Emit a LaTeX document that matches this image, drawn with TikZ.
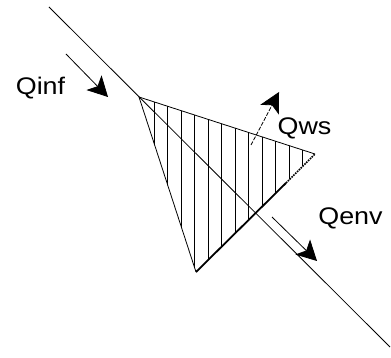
\documentclass[tikz,border=0pt]{standalone}
\usepackage{fontspec}
\setmainfont{Liberation Sans}
\usetikzlibrary{arrows.meta}
\begin{document}
\begin{tikzpicture}[x=1pt,y=-1pt,
  thinline/.style={line width=0.8pt},
  thickline/.style={line width=1.8pt},
  flowarrow/.style={line width=0.8pt,-{Stealth[length=20pt,width=21pt,inset=5pt]}},
  lbl/.style={font=\fontsize{24}{27}\selectfont,anchor=base,inner sep=0pt,xscale=1.12}]
\useasboundingbox (0,0) rectangle (391,358);
% long line
\coordinate (L1) at (49,7);
\coordinate (L2) at (390,347);
\draw[thinline] (L1) -- (L2);
% triangle
\coordinate (A) at (139,97);
\coordinate (B) at (315,154);
\coordinate (C) at (196,272);
\coordinate (D) at (286,183);
\begin{scope}
  \clip (A) -- (B) -- (C) -- cycle;
  \foreach \k in {0,...,11} {
    \draw[thinline] (154+13.5*\k,90) -- (154+13.5*\k,280);
  }
\end{scope}
\draw[thinline] (C) -- (A) -- (B);
\draw[thickline] (C) -- (D);
\draw[line width=1.6pt,densely dotted] (D) -- (B);
% arrows
\coordinate (Qi1) at (66,54);
\coordinate (Qi2) at (108,97);
\draw[flowarrow] (Qi1) -- (Qi2);
\coordinate (Qw1) at (251,145);
\coordinate (Qw2) at (279,92);
\draw[flowarrow,dash pattern=on 4pt off 1.5pt] (Qw1) -- (Qw2);
\coordinate (Qe1) at (272,217);
\coordinate (Qe2) at (317,261);
\draw[flowarrow] (Qe1) -- (Qe2);
% labels
\node[lbl] (qinf) at (40.5,95) {Qinf};
\node[lbl] (qws) at (304.5,135) {Qws};
\node[lbl] (qenv) at (350.5,225) {Qenv};
\end{tikzpicture}
\end{document}
